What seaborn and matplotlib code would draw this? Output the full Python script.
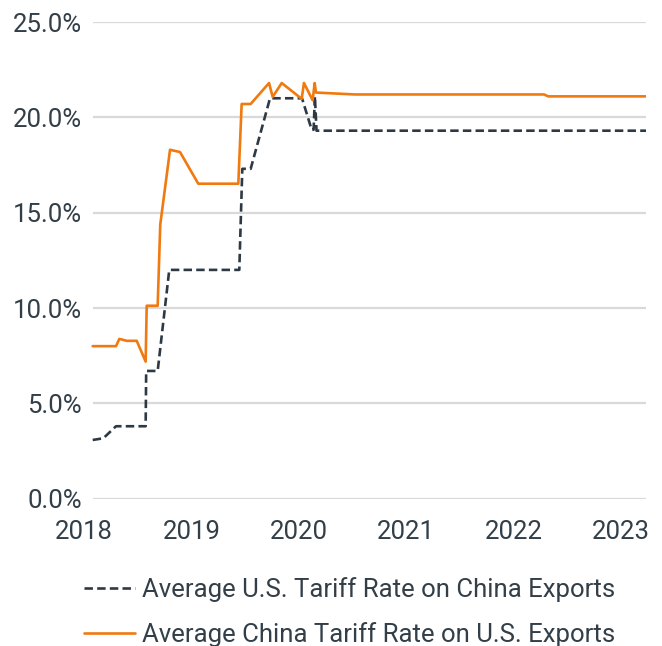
#Import packages
import numpy as np
import pandas as pd
import matplotlib
matplotlib.use("Agg")
import matplotlib.pyplot as plt
import seaborn as sns

#Data (decimal years, percent)
us_years = [2018.081, 2018.180, 2018.298, 2018.574, 2018.579, 2018.686, 2018.794,
            2019.446, 2019.474, 2019.552, 2019.732, 2020.030, 2020.120, 2020.138,
            2020.150, 2020.165, 2023.233]
us_rate = [3.08, 3.17, 3.8, 3.8, 6.7, 6.7, 12.0,
           12.0, 17.3, 17.3, 21.0, 21.0, 19.35, 19.35,
           21.1, 19.3, 19.3]

cn_years = [2018.081, 2018.298, 2018.329, 2018.398, 2018.491, 2018.574, 2018.584,
            2018.686, 2018.710, 2018.801, 2018.894, 2019.064, 2019.437, 2019.468,
            2019.552, 2019.723, 2019.757, 2019.841, 2020.027, 2020.048, 2020.129,
            2020.148, 2020.160, 2020.523, 2022.283, 2022.323, 2023.233]
cn_rate = [8.0, 8.0, 8.38, 8.28, 8.28, 7.19, 10.12,
           10.12, 14.37, 18.3, 18.18, 16.52, 16.52, 20.7,
           20.7, 21.8, 21.07, 21.8, 20.97, 21.8, 20.9,
           21.8, 21.3, 21.2, 21.2, 21.1, 21.1]

year_ticks = [2018, 2019, 2020, 2021, 2022, 2023]
pct_ticks = [0, 5, 10, 15, 20, 25]

us_label = "Average U.S. Tariff Rate on China Exports"
cn_label = "Average China Tariff Rate on U.S. Exports"

#Colours
text_col = "#333f48"
orange = "#f07a10"
grid_col = "#d9d9d9"

sns.set_theme(style="white")
plt.rcParams['font.family'] = ['Roboto', 'DejaVu Sans']

fig = plt.figure(figsize=(6.62, 6.46), dpi=100)
ax = fig.add_axes([84/662, 1 - 498.7/646, (646 - 84)/662, (498.7 - 22)/646])

#Gridlines only across the data span
ax.hlines(pct_ticks, us_years[0], us_years[-1], color=grid_col, linewidth=1.6, zorder=0)

us_df = pd.DataFrame({"year": us_years, "rate": us_rate})
cn_df = pd.DataFrame({"year": cn_years, "rate": cn_rate})
sns.lineplot(data=us_df, x="year", y="rate", ax=ax, color="#2d3a45", linewidth=1.9,
             linestyle=(0, (3.2, 1.6)), label=us_label, sort=False)
sns.lineplot(data=cn_df, x="year", y="rate", ax=ax, color=orange, linewidth=1.9,
             label=cn_label, sort=False)

ax.set_xlim(2018.0, 2023.233)
ax.set_ylim(0, 25)
ax.set_xticks(year_ticks)
ax.set_xticklabels([str(y) for y in year_ticks])
ax.set_yticks(pct_ticks)
ax.set_yticklabels([f"{p:.1f}%" for p in pct_ticks])
ax.set_xlabel("")
ax.set_ylabel("")
ax.tick_params(axis="both", length=0, labelsize=18.5, labelcolor=text_col)
ax.tick_params(axis="y", pad=1.5)
ax.tick_params(axis="x", pad=15)
for s in ax.spines.values():
    s.set_visible(False)
ax.patch.set_alpha(0)

#Legend below the plot
h, l = ax.get_legend_handles_labels()
ax.get_legend().remove()
leg = fig.legend(h, l, loc="upper left", bbox_to_anchor=(84/662, 1 - 577/646),
                 frameon=False, fontsize=18.5, handlelength=2.0, handletextpad=0.25,
                 labelspacing=0.8, borderpad=0, borderaxespad=0)
for t in leg.get_texts():
    t.set_color(text_col)

plt.savefig("out.png", dpi=100)
